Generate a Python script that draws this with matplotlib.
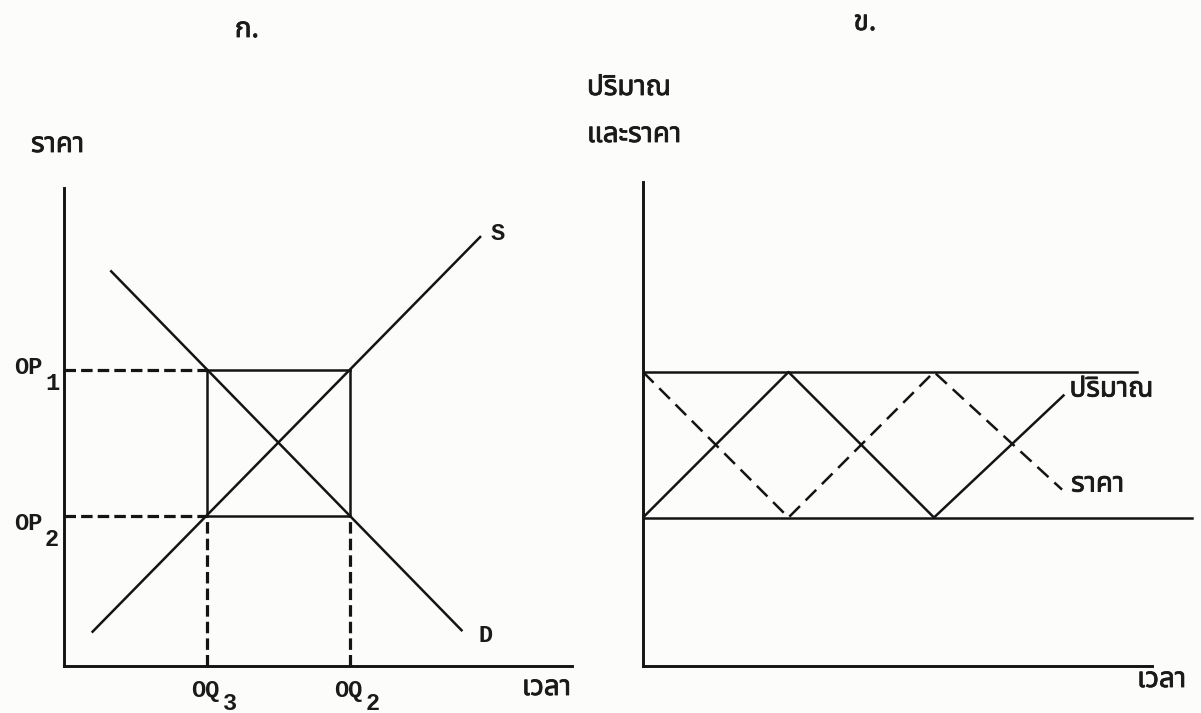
import matplotlib
matplotlib.use("Agg")
import matplotlib.pyplot as plt
import matplotlib.patheffects as pe
from matplotlib import font_manager
from matplotlib.ft2font import FT2Font

# ---------------- data (diagram values) ----------------
# Panel ก. : cobweb diagram (quantity on x, price on y)
Q_LEVELS = [1.0, 2.0]            # OQ3, OQ2
Q_NAMES = ["3", "2"]
P_LEVELS = [2.07, 1.05]          # OP1, OP2
P_NAMES = ["1", "2"]
DEMAND_Q = [0.33, 2.78]
DEMAND_P = [2.76, 0.25]
SUPPLY_Q = [0.20, 2.91]
SUPPLY_P = [0.24, 3.00]

# Panel ข. : quantity and price over time
BAND_HIGH = 2.0
BAND_LOW = 1.01
TIME_QTY = [0, 1, 2, 2.89]
QTY = [1.01, 2.0, 1.01, 1.84]
TIME_PRICE = [0, 1, 2, 2.88]
PRICE = [2.0, 1.01, 2.0, 1.20]

TITLE_A = "ก."
TITLE_B = "ข."
YLABEL_A = "ราคา"
XLABEL = "เวลา"
YLABEL_B = ["ปริมาณ", "และราคา"]
LBL_QTY = "ปริมาณ"
LBL_PRICE = "ราคา"

# ---------------- fonts ----------------
def find_thai_family():
    prefs = ["Tlwg Typo", "Tlwg Mono", "TlwgTypo", "Noto Sans Thai", "Noto Sans Mono",
             "Loma", "Garuda", "Norasi"]
    found = {}
    for f in font_manager.fontManager.ttflist:
        try:
            cm = FT2Font(f.fname).get_charmap()
        except Exception:
            continue
        if 0x0E23 in cm and 0x0E32 in cm and 0x0E04 in cm:
            found.setdefault(f.name, f.fname)
    for p in prefs:
        if p in found:
            return p
    return next(iter(found), None)

thai = find_thai_family()
FAM = ["Liberation Mono"] + ([thai] if thai else []) + ["DejaVu Sans"]
THAI_FAM = ([thai] if thai else []) + ["Liberation Mono", "DejaVu Sans"]
plt.rcParams["font.family"] = FAM

INK = "#141414"
TXT = "#1a1a1a"
LW = 1.8
AXW = 2.1
DASH_A = (0, (3.6, 1.6))
LW_DA = 2.3
DASH_B = (0, (6.0, 3.2))
FS = 17
FS_TH = 20
WT = "bold"
THICK = [pe.withStroke(linewidth=0.6, foreground=TXT)]

def thai_kw():
    return dict(fontsize=FS_TH, color=TXT, family=THAI_FAM, weight=WT, path_effects=THICK)

W, H = 1201, 713
fig = plt.figure(figsize=(W / 100, H / 100), dpi=100)
fig.patch.set_facecolor("#fcfcfa")

def box(l, r, t, b):
    return [l / W, (H - b) / H, (r - l) / W, (b - t) / H]

# ================= Panel ก. =================
axA = fig.add_axes(box(64, 572, 188, 666))
axA.set_xlim(0, 508 / 143)
axA.set_ylim(0, 478 / 143)
axA.patch.set_alpha(0)
for s in ["top", "right"]:
    axA.spines[s].set_visible(False)
for s in ["left", "bottom"]:
    axA.spines[s].set_linewidth(AXW)
    axA.spines[s].set_color(INK)
axA.set_xticks([])
axA.set_yticks([])

q3, q2 = Q_LEVELS
p1, p2 = P_LEVELS
axA.plot(DEMAND_Q, DEMAND_P, color=INK, lw=LW)
axA.plot(SUPPLY_Q, SUPPLY_P, color=INK, lw=LW)
# rectangle (solid)
axA.plot([q3, q2], [p1, p1], color=INK, lw=LW)
axA.plot([q3, q2], [p2, p2], color=INK, lw=LW)
axA.plot([q3, q3], [p2, p1], color=INK, lw=LW)
axA.plot([q2, q2], [p2, p1], color=INK, lw=LW)
# dashed guides
for p in P_LEVELS:
    axA.plot([0, q3], [p, p], color=INK, lw=LW_DA, ls=DASH_A)
for q in Q_LEVELS:
    axA.plot([q, q], [0, p2], color=INK, lw=LW_DA, ls=DASH_A)

for p, n, dy in zip(P_LEVELS, P_NAMES, [2, -8]):
    axA.annotate("OP", xy=(0, p), xytext=(-22, dy), textcoords="offset pixels",
                 ha="right", va="center", fontsize=FS, color=TXT, weight=WT)
    axA.annotate(n, xy=(0, p), xytext=(-19, dy - 16), textcoords="offset pixels",
                 ha="left", va="center", fontsize=FS, color=TXT, weight=WT)
for q, n in zip(Q_LEVELS, Q_NAMES):
    axA.annotate("OQ", xy=(q, 0), xytext=(-2, -24), textcoords="offset pixels",
                 ha="center", va="center", fontsize=FS, color=TXT, weight=WT)
    axA.annotate(n, xy=(q, 0), xytext=(16, -37), textcoords="offset pixels",
                 ha="left", va="center", fontsize=FS, color=TXT, weight=WT)

axA.annotate("S", xy=(SUPPLY_Q[-1], SUPPLY_P[-1]), xytext=(10, 3), textcoords="offset pixels",
             ha="left", va="center", fontsize=FS, color=TXT, weight=WT)
axA.annotate("D", xy=(DEMAND_Q[-1], DEMAND_P[-1]), xytext=(17, -5), textcoords="offset pixels",
             ha="left", va="center", fontsize=FS, color=TXT, weight=WT)
axA.text(522, H - 688, XLABEL, transform=None, ha="left", va="center", **thai_kw())
axA.text(31, H - 145, YLABEL_A, transform=None, ha="left", va="center", **thai_kw())
fig.text(247 / W, 1 - 30 / H, TITLE_A, ha="center", va="center", **thai_kw())

# ================= Panel ข. =================
axB = fig.add_axes(box(643, 1192, 182, 666))
axB.set_xlim(0, 549 / 145.5)
axB.set_ylim(0, 484 / 147)
axB.patch.set_alpha(0)
for s in ["top", "right"]:
    axB.spines[s].set_visible(False)
for s in ["left", "bottom"]:
    axB.spines[s].set_linewidth(AXW)
    axB.spines[s].set_color(INK)
axB.spines["bottom"].set_bounds(0, 509 / 145.5)
axB.set_xticks([])
axB.set_yticks([])

axB.plot([0, 494 / 145.5], [BAND_HIGH, BAND_HIGH], color=INK, lw=LW)
axB.plot([0, 549 / 145.5], [BAND_LOW, BAND_LOW], color=INK, lw=LW, clip_on=False)
axB.plot(TIME_QTY, QTY, color=INK, lw=LW)
axB.plot(TIME_PRICE, PRICE, color=INK, lw=LW, ls=DASH_B)

axB.annotate(LBL_QTY, xy=(TIME_QTY[-1], QTY[-1]), xytext=(6, 6), textcoords="offset pixels",
             ha="left", va="center", **thai_kw())
axB.annotate(LBL_PRICE, xy=(TIME_PRICE[-1], PRICE[-1]), xytext=(9, 5), textcoords="offset pixels",
             ha="left", va="center", **thai_kw())
fig.text(1186 / W, 1 - 680 / H, XLABEL, ha="right", va="center", **thai_kw())
fig.text(587 / W, 1 - 88 / H, YLABEL_B[0], ha="left", va="center", **thai_kw())
fig.text(587 / W, 1 - 135 / H, YLABEL_B[1], ha="left", va="center", **thai_kw())
fig.text(865 / W, 1 - 23 / H, TITLE_B, ha="center", va="center", **thai_kw())

fig.savefig("out.png", dpi=100, facecolor=fig.get_facecolor())
